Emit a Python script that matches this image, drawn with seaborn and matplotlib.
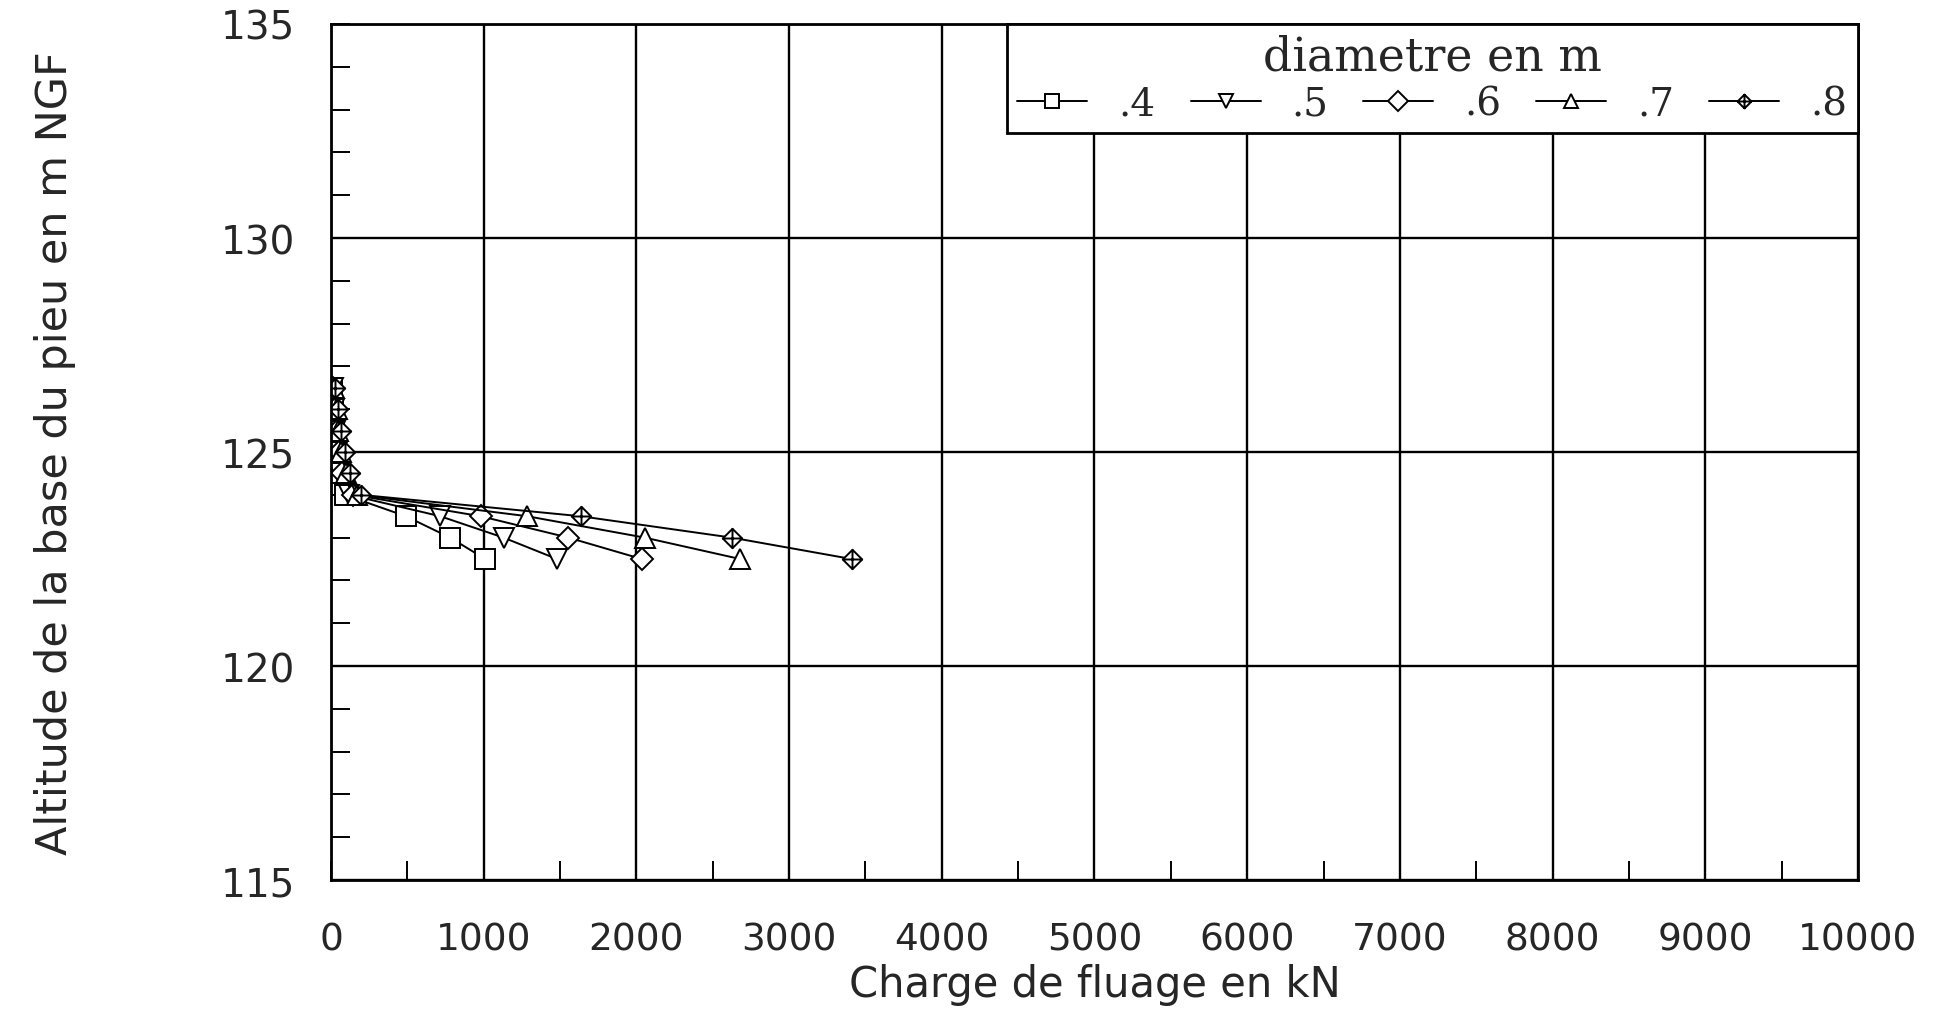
import numpy as np
import pandas as pd
import seaborn as sns
import matplotlib.pyplot as plt
from matplotlib.path import Path
from matplotlib.ticker import MultipleLocator

# ---------- data ---------- #
altitude = [126.5, 126.0, 125.5, 125.0, 124.5, 124.0, 123.5, 123.0, 122.5]

charge_04 = [8, 14, 20, 28, 38, 90, 490, 780, 1010]
charge_05 = [12, 20, 28, 40, 55, 120, 715, 1130, 1480]
charge_06 = [16, 28, 38, 52, 75, 145, 980, 1555, 2035]
charge_07 = [20, 36, 48, 68, 100, 170, 1285, 2055, 2680]
charge_08 = [25, 48, 63, 92, 124, 194, 1634, 2625, 3410]

diametres = ['.4', '.5', '.6', '.7', '.8']
charges = [charge_04, charge_05, charge_06, charge_07, charge_08]

rows = []
for d, c in zip(diametres, charges):
    for x, y in zip(c, altitude):
        rows.append({'diametre': d, 'charge': x, 'altitude': y})
df = pd.DataFrame(rows)

# diamond with a cross inside for .8
cross_diamond = Path(
    [(0, 1), (1, 0), (0, -1), (-1, 0), (0, 1), (0, 1), (0, -1), (-1, 0), (1, 0)],
    [Path.MOVETO, Path.LINETO, Path.LINETO, Path.LINETO, Path.CLOSEPOLY,
     Path.MOVETO, Path.LINETO, Path.MOVETO, Path.LINETO])

markers = {'.4': 's', '.5': 'v', '.6': 'D', '.7': '^', '.8': cross_diamond}
palette = {d: 'black' for d in diametres}
# marker sizes so that all symbols look about the same size
msize = {'.4': 14, '.5': 15, '.6': 11, '.7': 15, '.8': 14}

# ---------- plot ---------- #
sns.set_style('white')
plt.rcParams['font.family'] = ['DejaVu Sans']

fig = plt.figure(figsize=(19.38, 10.12), dpi=100)
ax = fig.add_axes([0.1708, 0.1294, 0.7879, 0.8459])

sns.lineplot(data=df, x='charge', y='altitude', hue='diametre', style='diametre',
             markers=markers, dashes=False, palette=palette, estimator=None,
             linewidth=1.4, markersize=13, markerfacecolor='white',
             markeredgecolor='black', markeredgewidth=1.4, ax=ax)

for line, d in zip(ax.lines, diametres):
    line.set_markersize(msize[d])

ax.set_xlim(0, 10000)
ax.set_ylim(115, 135)
ax.xaxis.set_major_locator(MultipleLocator(1000))
ax.xaxis.set_minor_locator(MultipleLocator(500))
ax.yaxis.set_major_locator(MultipleLocator(5))
ax.yaxis.set_minor_locator(MultipleLocator(1))
ax.grid(True, which='major', color='black', linewidth=1.7)
ax.set_axisbelow(True)
for s in ax.spines.values():
    s.set_color('black')
    s.set_linewidth(2)

ax.tick_params(axis='both', which='both', direction='in', color='black',
               left=True, bottom=True, right=False, top=False)
ax.tick_params(axis='both', which='minor', length=14, width=1.4)
ax.tick_params(axis='both', which='major', length=14, width=1.4)
ax.tick_params(axis='x', pad=30)
ax.tick_params(axis='y', pad=26)

for lab in ax.get_xticklabels():
    lab.set_fontsize(27)
for lab in ax.get_yticklabels():
    lab.set_fontsize(28)

ax.set_xlabel('Charge de fluage en kN', fontsize=30, labelpad=4)
ax.set_ylabel('Altitude de la base du pieu en m NGF', fontsize=31, labelpad=104)

handles, labels = ax.get_legend_handles_labels()
leg = ax.legend(handles, labels, title='diametre en m', ncol=5,
                loc='upper left', bbox_to_anchor=(0.4427, 0.0, 0.5573, 1.0),
                mode='expand', frameon=True, fancybox=False, framealpha=1,
                edgecolor='black', borderaxespad=0, handlelength=1.8,
                handletextpad=0.8, columnspacing=1.0, borderpad=0.27,
                prop={'family': 'DejaVu Serif', 'size': 28},
                title_fontproperties={'family': 'DejaVu Serif', 'size': 33})
leg.get_frame().set_linewidth(2)
leg._legend_box.sep = 4
for h in leg.legend_handles:
    h.set_markersize(10)

fig.savefig('out.png', dpi=100)
